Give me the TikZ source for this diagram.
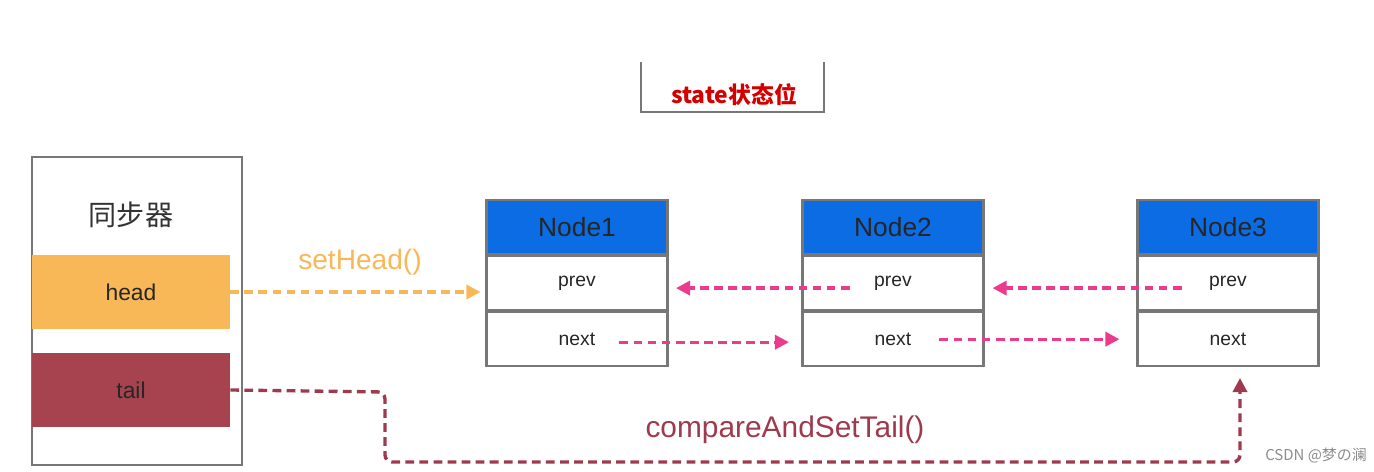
\documentclass[tikz,border=0pt]{standalone}
\usepackage{fontspec}
\setmainfont{Liberation Sans}
\newfontfamily\cjk{Noto Sans CJK SC}
\usetikzlibrary{arrows.meta}

\definecolor{nodeblue}{HTML}{0B6CE3}
\definecolor{headorange}{HTML}{F9B857}
\definecolor{tailred}{HTML}{A6434F}
\definecolor{linkpink}{HTML}{EC3B8C}
\definecolor{casred}{HTML}{9E3A4D}
\definecolor{boxgray}{HTML}{777777}
\definecolor{statered}{HTML}{D40000}

\tikzset{
    cell/.style={draw=boxgray, line width=1.2pt, minimum width=3.62cm, minimum height=1.08cm, inner sep=0pt, font=\fontsize{11}{13}\selectfont, text=black!85},
    headcell/.style={cell, fill=nodeblue, font=\fontsize{15}{18}\selectfont, text=black!85},
    field/.style={minimum width=3.96cm, minimum height=1.5cm, inner sep=0pt, font=\fontsize{13}{15}\selectfont, text=black!85},
    link/.style={linkpink, line width=1.9pt, dash pattern=on 5pt off 3pt, -{Triangle[length=8pt, width=8pt]}},
}

\begin{document}
\begin{tikzpicture}[x=0.02cm, y=-0.02cm]
    \useasboundingbox (0,0) rectangle (1374,472);

    % state
    \draw[boxgray, line width=1.2pt] (641,62) -- (641,112) -- (824,112) -- (824,62);
    \node[text=statered, font=\cjk\bfseries\fontsize{13}{15}\selectfont] (state) at (734,95) {state状态位};

    % synchronizer
    \draw[boxgray, line width=1.6pt] (32,157) rectangle (242,465);
    \node[font=\cjk\fontsize{16}{18}\selectfont, text=black!80] (sync) at (131,215) {同步器};
    \node[field, fill=headorange] (head) at (131,292) {head};
    \node[field, fill=tailred] (tail) at (131,390) {tail};

    % node1
    \node[headcell] (n1h) at (577,227) {Node1};
    \node[cell, anchor=north] (n1p) at (n1h.south) {prev};
    \node[cell, anchor=north] (n1n) at (n1p.south) {next};
    % node2
    \node[headcell] (n2h) at (893,227) {Node2};
    \node[cell, anchor=north] (n2p) at (n2h.south) {prev};
    \node[cell, anchor=north] (n2n) at (n2p.south) {next};
    % node3
    \node[headcell] (n3h) at (1228,227) {Node3};
    \node[cell, anchor=north] (n3p) at (n3h.south) {prev};
    \node[cell, anchor=north] (n3n) at (n3p.south) {next};

    % setHead
    \draw[headorange, line width=1.9pt, dash pattern=on 5pt off 3pt, -{Triangle[length=8pt, width=8pt]}]
        (head.east) -- ([xshift=-0.1cm]n1p.west |- head.east);
    \node[text=headorange, font=\fontsize{16}{18}\selectfont] (sethead) at (360,262) {setHead()};

    % next / prev links
    \draw[link] ([xshift=0.85cm, yshift=-0.06cm]n1n.center) -- ([xshift=-0.25cm, yshift=-0.06cm]n2n.west);
    \draw[link] ([xshift=0.93cm]n2n.center) -- ([xshift=-0.34cm]n3n.west);
    \draw[link] ([xshift=-0.87cm, yshift=-0.1cm]n2p.center) -- ([xshift=0.15cm, yshift=-0.1cm]n1p.east);
    \draw[link] ([xshift=-0.93cm, yshift=-0.1cm]n3p.center) -- ([xshift=0.16cm, yshift=-0.1cm]n2p.east);

    % compareAndSetTail
    \coordinate (tailup) at (1240,378);
    \draw[casred, line width=1.9pt, dash pattern=on 5pt off 3pt, rounded corners=4pt, -{Triangle[length=8pt, width=8pt]}]
        (tail.east) -- (385,392) -- (385,462) -- (1240,462) -- (tailup);
    \node[text=casred, font=\fontsize{17}{20}\selectfont] (cas) at (785,430) {compareAndSetTail()};

    % watermark
    \node[text=black!45, font=\cjk\fontsize{8.5}{10}\selectfont] (mark) at (1316,456) {CSDN @梦の澜};
\end{tikzpicture}
\end{document}
